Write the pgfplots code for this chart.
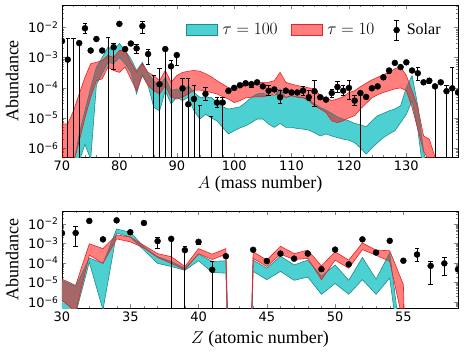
\documentclass[border=0pt]{standalone}
\usepackage{fontspec}
\setmainfont{Liberation Serif}
\newfontfamily\tickfont{DejaVu Sans}
\usepackage{pgfplots}
\usepackage{pgfplotstable}
\usepgfplotslibrary{fillbetween}
\pgfplotsset{compat=1.18}
\definecolor{cfill}{RGB}{77,208,210}
\definecolor{cedge}{RGB}{30,140,140}
\definecolor{redge}{RGB}{240,30,30}

\pgfplotstableread{
A clo chi rlo rhi
70 3.2e-8 1e-7 2.5e-7 6.3e-6
71 3.2e-8 1e-7 2.5e-7 6.3e-6
72 3.2e-8 2.5e-7 3.2e-7 1.7e-5
73 3.7e-7 2.9e-6 1.7e-6 6.2e-5
74 1.3e-6 1.7e-5 1.0e-5 2.2e-4
75 4.2e-7 1.0e-4 4.8e-5 6.2e-4
76 1.26e-4 4.8e-4 1.7e-4 6.9e-4
77 2.9e-4 1.0e-3 1.95e-4 7.9e-4
78 6.9e-4 2.2e-3 4.8e-4 1.17e-3
79 6.2e-4 1.7e-3 3.7e-4 1.0e-3
80 1.0e-3 2.9e-3 3.2e-4 1.7e-3
81 6.2e-4 1.7e-3 4.8e-4 1.7e-3
82 3.2e-4 9.1e-4 1.95e-4 6.9e-4
83 6.2e-5 3.7e-4 7.9e-5 3.2e-4
84 2.9e-4 6.9e-4 2.5e-4 6.2e-4
85 1.17e-4 2.9e-4 1.17e-4 3.2e-4
86 2.2e-5 1.7e-4 7.9e-5 2.5e-4
87 1.7e-5 1.17e-4 6.2e-5 1.7e-4
88 7.9e-5 2.2e-4 1.17e-4 3.7e-4
89 2.9e-5 7.9e-5 4.8e-5 1.5e-4
90 4.8e-5 9.1e-5 4.2e-5 2.5e-4
91 3.7e-5 6.9e-5 4.8e-5 3.2e-4
92 4.8e-5 1.17e-4 6.2e-5 3.5e-4
93 1.7e-5 6.9e-5 8.3e-5 3.7e-4
94 9.1e-6 4.8e-5 8.3e-5 3.5e-4
95 1.3e-5 4.6e-5 7.6e-5 2.9e-4
96 1.0e-5 4.8e-5 6.9e-5 2.3e-4
97 7.9e-6 3.2e-5 6.2e-5 1.7e-4
98 4.8e-6 2.3e-5 5.0e-5 1.3e-4
99 2.9e-6 1.95e-5 4.2e-5 1.0e-4
100 3.7e-6 2.1e-5 3.2e-5 9.1e-5
101 4.6e-6 2.3e-5 3.7e-5 1.0e-4
102 5.4e-6 3.2e-5 4.6e-5 1.17e-4
103 6.9e-6 4.8e-5 4.8e-5 1.3e-4
104 9.1e-6 6.2e-5 5.0e-5 1.5e-4
105 9.1e-6 6.5e-5 5.0e-5 1.5e-4
106 6.2e-6 5.4e-5 5.4e-5 1.5e-4
107 4.8e-6 5.4e-5 6.2e-5 1.7e-4
108 6.5e-6 9.1e-5 5.4e-5 3.2e-4
109 4.8e-6 4.6e-5 4.8e-5 1.5e-4
110 4.8e-6 5.4e-5 5.4e-5 1.3e-4
111 4.4e-6 5.0e-5 4.8e-5 1.17e-4
112 4.2e-6 4.8e-5 4.6e-5 1.07e-4
113 3.9e-6 3.9e-5 3.7e-5 9.8e-5
114 3.2e-6 2.9e-5 2.5e-5 9.1e-5
115 2.5e-6 2.2e-5 1.95e-5 5.4e-5
116 2.9e-6 1.8e-5 1.5e-5 4.6e-5
117 2.5e-6 1.4e-5 7.9e-6 3.7e-5
118 2.2e-6 1.07e-5 6.9e-6 4.2e-5
119 1.95e-6 9.1e-6 7.9e-6 5.0e-5
120 1.8e-6 7.9e-6 1.0e-5 6.9e-5
121 1.5e-6 6.5e-6 1.17e-5 7.9e-5
122 1.0e-6 5.9e-6 1.95e-5 1.07e-4
123 6.2e-7 5.0e-6 3.0e-5 1.4e-4
124 1.0e-6 7.9e-6 4.6e-5 1.8e-4
125 1.5e-6 1.17e-5 5.8e-5 2.2e-4
126 2.2e-6 1.4e-5 6.9e-5 2.7e-4
127 2.9e-6 1.7e-5 7.9e-5 3.2e-4
128 3.7e-6 1.95e-5 9.1e-5 4.2e-4
129 6.9e-6 2.5e-5 9.8e-5 4.8e-4
130 1.3e-5 1.0e-4 7.9e-5 2.5e-4
131 3.7e-5 2.5e-4 2.2e-5 7.9e-5
132 4.0e-6 2.5e-5 4.2e-6 2.2e-5
133 1.26e-7 7.9e-7 7.9e-7 2.5e-6
134 3.2e-8 1e-7 3.7e-7 1.95e-6
135 3.2e-8 1e-7 1.26e-7 5.0e-7
136 3.2e-8 1e-7 3.2e-8 1e-7
137 3.2e-8 1e-7 3.2e-8 1e-7
138 3.2e-8 1e-7 3.2e-8 1e-7
139 3.2e-8 1e-7 3.2e-8 1e-7
}\topband

\pgfplotstableread{
A Y
70 3.5e-3
71 8.5e-4
73 3.0e-3
74 9.3e-3
75 1.7e-3
76 4.1e-3
77 1.7e-3
79 2.2e-3
80 1.3e-2
81 1.9e-3
82 2.9e-3
83 2.0e-3
84 1.1e-2
85 1.3e-3
87 1.3e-4
88 1.9e-3
89 5.1e-4
90 1.2e-3
91 9.5e-5
92 2.8e-5
93 4.2e-5
95 6.2e-5
97 3.2e-5
98 3.2e-5
99 7.8e-5
100 9.8e-5
101 1.2e-4
102 1.4e-4
103 1.3e-4
104 1.5e-4
105 1.1e-4
106 7.9e-5
107 8.7e-5
108 4.8e-5
109 7.9e-5
110 6.9e-5
111 6.9e-5
112 7.9e-5
113 4.8e-5
114 7.6e-5
115 4.8e-5
116 4.0e-5
117 6.6e-5
118 1.05e-4
119 7.9e-5
120 9.8e-5
121 3.7e-5
122 6.6e-5
123 4.9e-5
124 9.5e-5
125 1.1e-4
126 2.2e-4
127 3.7e-4
128 6.6e-4
129 4.8e-4
130 6.9e-4
131 3.7e-4
132 3.0e-4
133 1.5e-4
134 1.7e-4
135 1.1e-4
136 1.5e-4
137 7.6e-5
138 9.5e-5
139 6.9e-5
}\topsolar

\pgfplotstableread{
A v
71 1e-8
71 4.4e-3
71 nan
72 1e-8
72 4.4e-3
72 nan
73 1e-8
73 3.5e-3
73 nan
74 6.5e-3
74 1.3e-2
74 nan
78 1e-8
78 4.8e-3
78 nan
79 3.9e-4
79 3.0e-3
79 nan
81 1.6e-3
81 2.1e-3
81 nan
83 1.35e-3
83 2.75e-3
83 nan
84 6.3e-3
84 1.55e-2
84 nan
85 6.0e-4
85 1.9e-3
85 nan
86 1e-8
86 2.5e-4
86 nan
87 1e-8
87 4.4e-4
87 nan
88 1e-8
88 2.0e-3
88 nan
89 1e-8
89 7.9e-4
89 nan
90 5.4e-4
90 1.4e-3
90 nan
91 1e-8
91 2.1e-4
91 nan
92 1e-8
92 2.0e-4
92 nan
93 1e-8
93 1.2e-4
93 nan
94 1e-8
94 2.6e-5
94 nan
95 3.8e-5
95 1.0e-4
95 nan
96 1e-8
96 1.07e-5
96 nan
97 2.2e-5
97 4.8e-5
97 nan
98 1e-8
98 4.8e-5
98 nan
102 1.2e-4
102 1.6e-4
102 nan
103 1.0e-4
103 1.45e-4
103 nan
106 5.4e-5
106 1.2e-4
106 nan
108 2.9e-5
108 7.9e-5
108 nan
112 5.4e-5
112 1.07e-4
112 nan
113 3.7e-5
113 7.9e-5
113 nan
114 2.3e-5
114 1.8e-4
114 nan
115 4.0e-5
115 5.6e-5
115 nan
117 4.8e-5
117 8.9e-5
117 nan
118 6.8e-5
118 1.6e-4
118 nan
119 5.4e-5
119 1.2e-4
119 nan
120 4.0e-5
120 1.7e-4
120 nan
121 2.5e-5
121 5.4e-5
121 nan
122 1e-8
122 7.6e-5
122 nan
126 1.9e-4
126 2.5e-4
126 nan
127 3.0e-4
127 4.4e-4
127 nan
131 3.2e-4
131 4.4e-4
131 nan
132 1.7e-4
132 4.8e-4
132 nan
134 1.4e-4
134 2.0e-4
134 nan
135 1e-8
135 1.15e-4
135 nan
137 1e-8
137 1.2e-4
137 nan
138 1e-8
138 4.8e-4
138 nan
}\topbars

\pgfplotstableread{
Z clo chi rlo rhi
30 3.2e-7 1.26e-5 1.26e-6 1.5e-5
31 2.5e-7 6.3e-6 3.2e-7 7.1e-6
32 1.1e-4 1.8e-4 2.5e-4 9.5e-4
33 4e-7 9.5e-5 9.5e-5 5.4e-4
34 3.4e-3 5.4e-3 1.7e-3 2.7e-3
35 2.1e-3 3.7e-3 1.2e-3 2.1e-3
36 4.5e-4 6.6e-4 5.9e-4 7.9e-4
37 9.5e-5 2.1e-4 1.9e-4 3.0e-4
38 6.6e-5 1.2e-4 9.5e-5 2.1e-4
39 4.2e-5 5.4e-5 4.5e-5 6.6e-5
40 1.3e-4 2.8e-4 3.0e-4 5.4e-4
41 3.3e-5 1.2e-4 1.5e-4 2.8e-4
42 3.0e-5 1.3e-4 2.8e-4 5.4e-4
43 1e-30 1e-30 1e-30 1e-30
44 3.7e-5 1.4e-4 1.7e-4 3.7e-4
45 1.4e-5 5.4e-5 6.6e-5 1.4e-4
46 3.7e-5 2.2e-4 2.8e-4 7.1e-4
47 1.3e-5 7.9e-5 1.5e-4 3.0e-4
48 1.9e-5 1.4e-4 1.7e-4 4.5e-4
49 2.5e-6 2.1e-5 1.4e-5 7.1e-5
50 8.9e-6 7.9e-5 1.4e-4 3.7e-4
51 2.5e-6 1.3e-5 5.4e-5 1.4e-4
52 1.4e-5 1.9e-4 4.8e-4 1.05e-3
53 2.5e-6 1.5e-5 2.5e-4 4.5e-4
54 1.7e-5 3.3e-4 1.2e-4 4.2e-4
55 1e-10 1e-9 7.9e-8 7.9e-6
56 1e-30 1e-30 1e-30 1e-30
57 1e-30 1e-30 1e-30 1e-30
58 1e-30 1e-30 1e-30 1e-30
59 1e-30 1e-30 1e-30 1e-30
}\botband

\pgfplotstableread{
Z Y
30 3.3e-3
31 3.4e-3
32 1.4e-2
33 1.6e-3
34 1.5e-2
35 3.7e-3
36 1.1e-2
37 1.3e-3
38 1.7e-3
39 4.5e-4
40 1.2e-3
41 4.5e-5
42 2.2e-4
44 4.7e-4
45 1.26e-4
46 3.0e-4
47 1.66e-4
48 3.0e-4
49 4.8e-5
50 4.8e-4
51 8.5e-5
52 1.6e-3
53 3.4e-4
54 1.35e-3
55 1.3e-4
56 2.7e-4
57 7.1e-5
58 9.5e-5
59 4.7e-5
}\botsolar

\pgfplotstableread{
Z v
31 7.1e-4
31 7.1e-3
31 nan
32 1.2e-2
32 1.7e-2
32 nan
35 3.0e-3
35 4.5e-3
35 nan
36 9e-3
36 1.4e-2
36 nan
37 5.4e-4
37 2.1e-3
37 nan
38 1e-8
38 1.8e-3
38 nan
39 1e-8
39 7.4e-4
39 nan
40 9e-4
40 1.5e-3
40 nan
41 1e-8
41 1.2e-4
41 nan
49 4.0e-5
49 5.8e-5
49 nan
56 1.2e-4
56 5.4e-4
56 nan
57 7.9e-6
57 1.2e-4
57 nan
58 2.2e-5
58 1.9e-4
58 nan
}\botbars

\begin{document}
\begin{tikzpicture}
\begin{axis}[at={(0,0)}, anchor=north west,
  scale only axis, width=396pt, height=152pt,
  ymode=log, ymin=5e-7, ymax=0.055,
  xmin=70, xmax=139, xtick={70,80,...,130}, minor x tick num=4,
  axis line style={line width=0.7pt},
  major tick length=4pt, minor tick length=2pt,
  tick label style={font=\tickfont\fontsize{13}{13}\selectfont},
  /pgf/number format/assume math mode=true,
  ytick={1e-6,1e-5,1e-4,1e-3,1e-2},
  yticklabels={10\textsuperscript{−6},10\textsuperscript{−5},10\textsuperscript{−4},10\textsuperscript{−3},10\textsuperscript{−2}},
  minor ytick={5e-7,6e-7,7e-7,8e-7,9e-7,2e-6,3e-6,4e-6,5e-6,6e-6,7e-6,8e-6,9e-6,2e-5,3e-5,4e-5,5e-5,6e-5,7e-5,8e-5,9e-5,2e-4,3e-4,4e-4,5e-4,6e-4,7e-4,8e-4,9e-4,2e-3,3e-3,4e-3,5e-3,6e-3,7e-3,8e-3,9e-3,2e-2,3e-2,4e-2,5e-2},
  ylabel={Abundance},
  ylabel style={font=\fontsize{18}{18}\selectfont, at={(axis description cs:-0.126,0.5)}, anchor=center},
  xlabel={$A$ (mass number)},
  xlabel style={font=\fontsize{18}{18}\selectfont, at={(axis description cs:0.5,-0.181)}, anchor=center},
  clip marker paths=true,
  legend columns=3,
  legend style={draw=none, fill=none, at={(0.305,0.835)}, anchor=west,
    font=\fontsize{17}{17}\selectfont},
]
\addplot[draw=none, name path=cl, forget plot] table[x=A, y=clo]{\topband};
\addplot[draw=none, name path=ch, forget plot] table[x=A, y=chi]{\topband};
\addplot[fill=cfill, draw=none, forget plot] fill between[of=cl and ch];
\addplot[cedge, line width=0.6pt, forget plot] table[x=A, y=clo]{\topband};
\addplot[cedge, line width=0.6pt, forget plot] table[x=A, y=chi]{\topband};
\addplot[draw=none, name path=rl, forget plot] table[x=A, y=rlo]{\topband};
\addplot[draw=none, name path=rh, forget plot] table[x=A, y=rhi]{\topband};
\addplot[fill=red, fill opacity=0.5, draw=none, forget plot] fill between[of=rl and rh];
\addplot[redge, line width=0.6pt, forget plot] table[x=A, y=rlo]{\topband};
\addplot[redge, line width=0.6pt, forget plot] table[x=A, y=rhi]{\topband};
\addplot[black, line width=0.8pt, mark=-, mark size=2.2pt, unbounded coords=jump, forget plot] table[x=A, y=v]{\topbars};
\addplot[only marks, mark=*, mark size=3pt, black, forget plot] table[x=A, y=Y]{\topsolar};
\addlegendimage{legend image code/.code={\draw[fill=cfill, draw=cedge, line width=0.6pt] (0pt,-5.5pt) rectangle (31pt,5.5pt);}}
\addlegendentry{\rule{3pt}{0pt}$\tau=100$\rule{11pt}{0pt}}
\addlegendimage{legend image code/.code={\draw[fill=red, fill opacity=0.5, draw=redge, line width=0.6pt] (0pt,-5.5pt) rectangle (31pt,5.5pt);}}
\addlegendentry{\rule{3pt}{0pt}$\tau=10$\rule{17pt}{0pt}}
\addlegendimage{legend image code/.code={\draw[black, line width=0.8pt] (0pt,-10pt) -- (0pt,10pt) (-2.2pt,10pt) -- (2.2pt,10pt) (-2.2pt,-10pt) -- (2.2pt,-10pt); \fill[black] (0pt,0pt) circle (3pt);}}
\addlegendentry{\rule{5pt}{0pt}{\fontsize{16}{16}\selectfont Solar}}
\end{axis}

\begin{axis}[at={(0,-206pt)}, anchor=north west,
  scale only axis, width=396pt, height=97pt,
  ymode=log, ymin=5e-7, ymax=0.045,
  xmin=30, xmax=59, xtick={30,35,...,55}, minor x tick num=4,
  axis line style={line width=0.7pt},
  major tick length=4pt, minor tick length=2pt,
  tick label style={font=\tickfont\fontsize{13}{13}\selectfont},
  /pgf/number format/assume math mode=true,
  ytick={1e-6,1e-5,1e-4,1e-3,1e-2},
  yticklabels={10\textsuperscript{−6},10\textsuperscript{−5},10\textsuperscript{−4},10\textsuperscript{−3},10\textsuperscript{−2}},
  minor ytick={5e-7,6e-7,7e-7,8e-7,9e-7,2e-6,3e-6,4e-6,5e-6,6e-6,7e-6,8e-6,9e-6,2e-5,3e-5,4e-5,5e-5,6e-5,7e-5,8e-5,9e-5,2e-4,3e-4,4e-4,5e-4,6e-4,7e-4,8e-4,9e-4,2e-3,3e-3,4e-3,5e-3,6e-3,7e-3,8e-3,9e-3,2e-2,3e-2,4e-2},
  ylabel={Abundance},
  ylabel style={font=\fontsize{18}{18}\selectfont, at={(axis description cs:-0.126,0.5)}, anchor=center},
  xlabel={$Z$ (atomic number)},
  xlabel style={font=\fontsize{18}{18}\selectfont, at={(axis description cs:0.5,-0.32)}, anchor=center},
  clip marker paths=true,
]
\addplot[draw=none, name path=bcl, forget plot] table[x=Z, y=clo]{\botband};
\addplot[draw=none, name path=bch, forget plot] table[x=Z, y=chi]{\botband};
\addplot[fill=cfill, draw=none, forget plot] fill between[of=bcl and bch];
\addplot[cedge, line width=0.6pt, forget plot] table[x=Z, y=clo]{\botband};
\addplot[cedge, line width=0.6pt, forget plot] table[x=Z, y=chi]{\botband};
\addplot[draw=none, name path=brl, forget plot] table[x=Z, y=rlo]{\botband};
\addplot[draw=none, name path=brh, forget plot] table[x=Z, y=rhi]{\botband};
\addplot[fill=red, fill opacity=0.5, draw=none, forget plot] fill between[of=brl and brh];
\addplot[redge, line width=0.6pt, forget plot] table[x=Z, y=rlo]{\botband};
\addplot[redge, line width=0.6pt, forget plot] table[x=Z, y=rhi]{\botband};
\addplot[black, line width=0.8pt, mark=-, mark size=2.2pt, unbounded coords=jump, forget plot] table[x=Z, y=v]{\botbars};
\addplot[only marks, mark=*, mark size=3pt, black, forget plot] table[x=Z, y=Y]{\botsolar};
\end{axis}
\pgfresetboundingbox
\useasboundingbox (-62pt,5pt) rectangle (402pt,-349pt);
\end{tikzpicture}
\end{document}
